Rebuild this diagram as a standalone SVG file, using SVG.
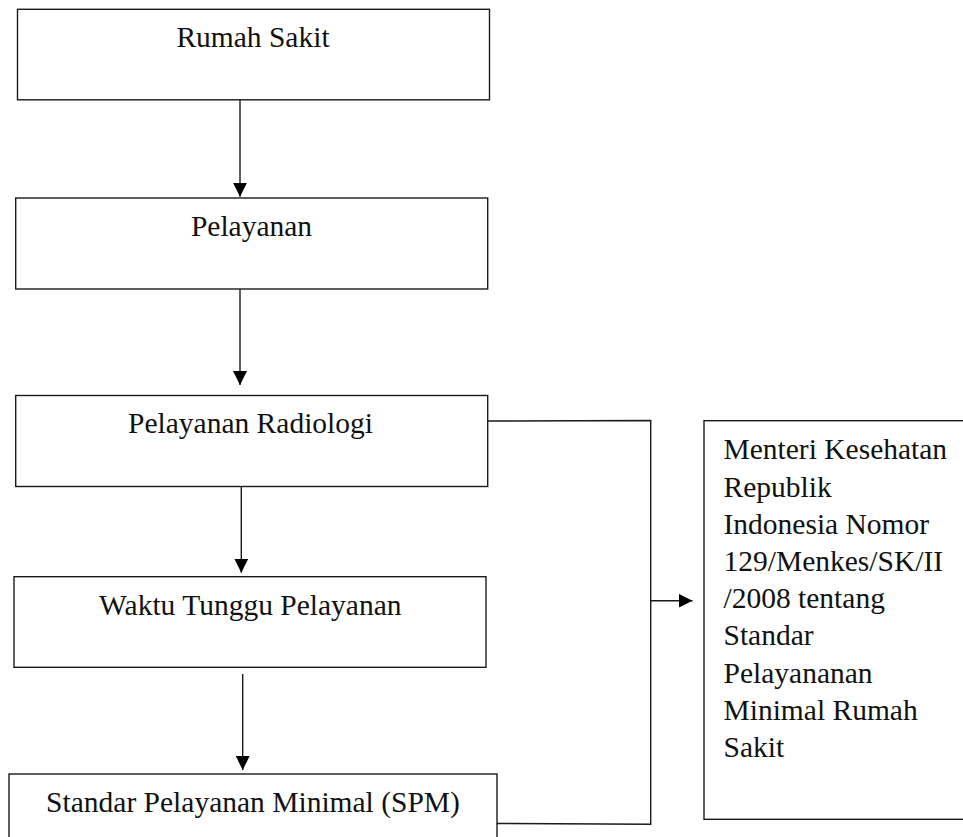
<svg xmlns="http://www.w3.org/2000/svg" width="963" height="837" viewBox="0 0 963 837">
<defs>
<style>
.box{fill:#fff;stroke:#1a1a1a;stroke-width:1.4}
.t{font-family:"Liberation Serif","Times New Roman",serif;font-size:29.5px;fill:#111}
.c{text-anchor:middle}
.ln{fill:none;stroke:#1a1a1a;stroke-width:1.4}
</style>
<marker id="ah" viewBox="0 0 14 14" refX="14" refY="7" markerWidth="14" markerHeight="14" markerUnits="userSpaceOnUse" orient="auto">
<path d="M0,0 L14,7 L0,14 Z" fill="#000"/>
</marker>
</defs>
<rect width="963" height="837" fill="#fff"/>
<g id="n1"><rect class="box" x="17.5" y="9.3" width="472" height="90.5"/><text class="t c" x="253" y="46.7">Rumah Sakit</text></g>
<g id="n2"><rect class="box" x="15.7" y="198" width="472" height="91"/><text class="t c" x="251.5" y="236">Pelayanan</text></g>
<g id="n3"><rect class="box" x="15.7" y="395.5" width="472" height="91"/><text class="t c" x="250.5" y="432.7">Pelayanan Radiologi</text></g>
<g id="n4"><rect class="box" x="14" y="576.7" width="472" height="90.6"/><text class="t c" x="250.3" y="615">Waktu Tunggu Pelayanan</text></g>
<g id="n5"><rect class="box" x="9" y="774" width="488" height="90"/><text class="t c" x="253" y="811.7">Standar Pelayanan Minimal (SPM)</text></g>
<g id="n6"><rect class="box" x="704" y="420.7" width="280" height="398.6"/>
<text class="t" x="723.5" y="459.3">
<tspan x="723.5" y="459.3">Menteri Kesehatan</tspan>
<tspan x="723.5" y="496.5">Republik</tspan>
<tspan x="723.5" y="533.7">Indonesia Nomor</tspan>
<tspan x="723.5" y="570.9">129/Menkes/SK/II</tspan>
<tspan x="723.5" y="608.1">/2008 tentang</tspan>
<tspan x="723.5" y="645.3">Standar</tspan>
<tspan x="723.5" y="682.5">Pelayananan</tspan>
<tspan x="723.5" y="719.7">Minimal Rumah</tspan>
<tspan x="723.5" y="756.9">Sakit</tspan>
</text></g>
<g id="connectors">
<line class="ln" x1="240" y1="99.8" x2="240" y2="196.7" marker-end="url(#ah)"/>
<line class="ln" x1="240" y1="289" x2="240" y2="385" marker-end="url(#ah)"/>
<line class="ln" x1="241.3" y1="486.5" x2="241.3" y2="572.7" marker-end="url(#ah)"/>
<line class="ln" x1="242.7" y1="674" x2="242.7" y2="770" marker-end="url(#ah)"/>
<polyline class="ln" points="487.7,421 650.7,420.5 650.7,824.3 497,823.5"/>
<line class="ln" x1="650.7" y1="600.7" x2="692.5" y2="600.7" marker-end="url(#ah)"/>
</g>
</svg>
